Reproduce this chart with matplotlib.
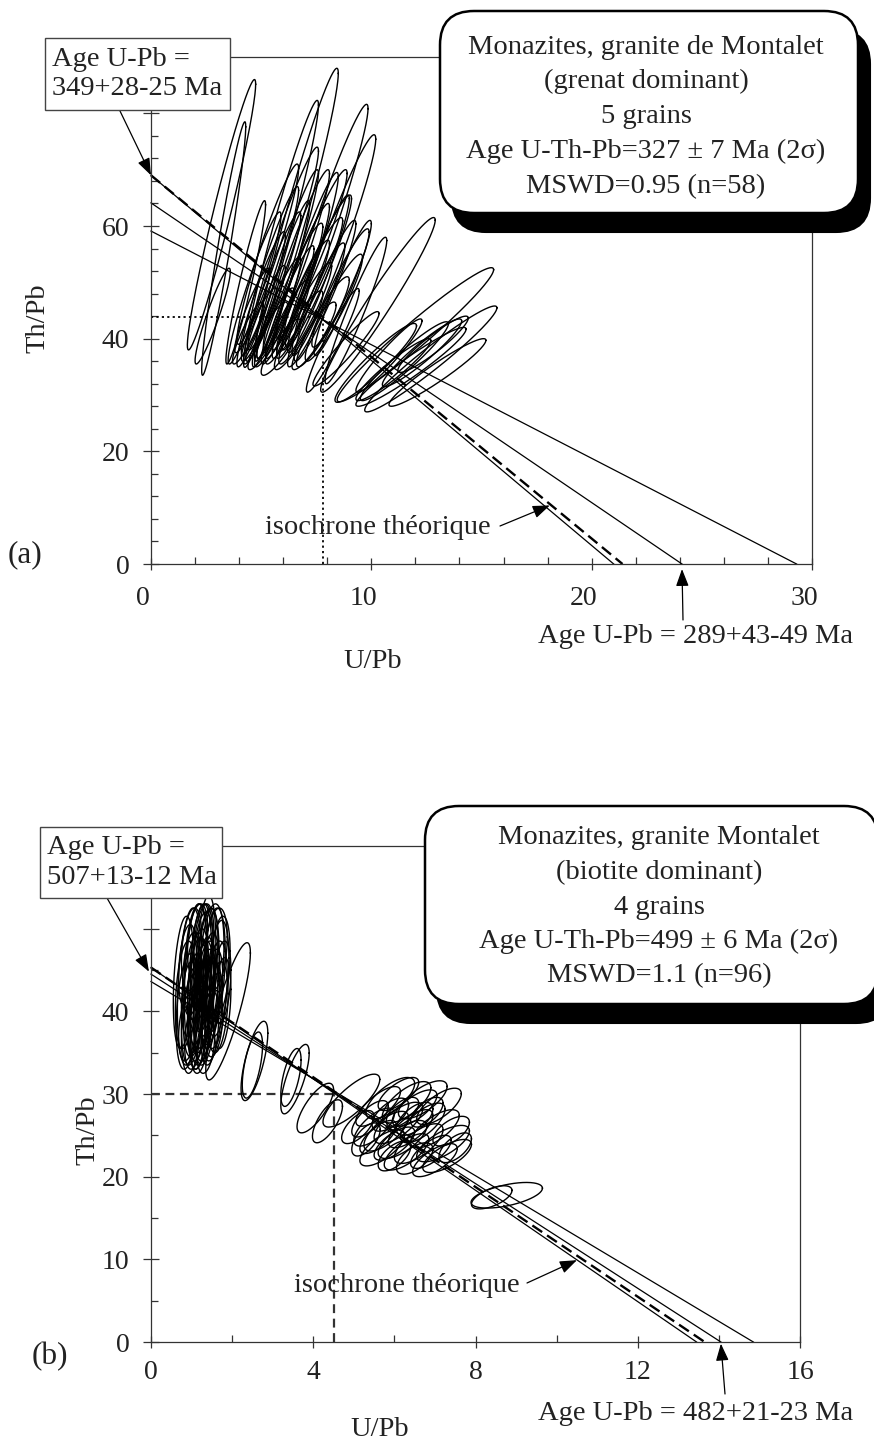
import numpy as np
import matplotlib
matplotlib.use("Agg")
import matplotlib.pyplot as plt
from matplotlib.patches import FancyBboxPatch, Rectangle
from matplotlib.transforms import ScaledTranslation

plt.rcParams['font.family'] = ['Liberation Serif', 'DejaVu Serif']

# ---------------- DATA ----------------
# Panel (a): error ellipses (centre x, centre y, half-extent x, half-extent y, correlation)
a_cx = [3.2, 3.3, 4.3, 2.8, 6.6, 5.9, 7.9, 8.3, 6.1, 7.0, 7.6, 8.7,
        5.0, 5.5, 6.0, 6.4, 6.8, 7.2, 5.2, 5.8, 6.3, 6.9, 4.6, 4.9, 5.6, 6.2, 7.5, 7.9,
        6.6, 7.3, 5.4, 4.7, 7.0, 4.4, 5.3, 6.7, 7.8, 8.3, 6.0, 7.6, 8.6, 5.9,
        10.3, 12.0, 12.7, 11.5, 12.3, 11.0, 12.8, 10.8, 13.0, 11.8, 8.85, 8.25, 10.2, 9.3,
        5.3, 7.4]
a_cy = [62.0, 56.0, 50.0, 44.0, 62.0, 58.6, 59.8, 56.6, 52.5, 53.0, 51.5, 49.0,
        47.0, 49.0, 50.5, 48.0, 51.0, 49.5, 44.5, 45.5, 46.5, 47.0, 45.0, 42.5, 42.0, 43.0, 46.0, 48.5,
        54.0, 55.0, 52.0, 49.0, 44.5, 41.0, 40.5, 41.5, 43.0, 45.5, 56.0, 52.0, 49.0, 38.5,
        46.0, 40.7, 36.4, 36.0, 37.5, 34.5, 39.0, 37.0, 34.0, 35.0, 38.2, 39.7, 35.7, 45.0,
        55.0, 40.5]
a_sx = [1.55, 1.0, 0.9, 0.8, 1.9, 1.7, 1.95, 1.9, 1.5, 1.5, 1.4, 1.3,
        1.1, 1.3, 1.2, 1.4, 1.3, 1.5, 0.9, 1.0, 1.1, 1.2, 0.8, 0.8, 0.9, 1.0, 1.3, 1.4,
        1.5, 1.6, 1.3, 1.2, 1.2, 0.7, 0.9, 1.1, 1.2, 1.3, 1.6, 1.5, 1.3, 0.9,
        2.6, 3.55, 3.0, 2.0, 1.8, 1.7, 1.6, 1.5, 2.2, 2.5, 1.5, 1.2, 1.85, 1.4,
        1.4, 1.0]
a_sy = [24.0, 22.5, 14.5, 8.5, 26.0, 23.7, 21.8, 19.6, 17.5, 16.5, 14.0, 12.0,
        12.0, 13.5, 14.0, 12.5, 13.0, 12.0, 8.5, 9.0, 10.0, 10.5, 7.5, 6.5, 7.0, 7.5, 11.0, 12.5,
        16.0, 15.0, 15.0, 13.5, 9.0, 5.5, 6.0, 7.0, 8.0, 9.5, 18.0, 13.5, 10.5, 5.0,
        15.5, 11.9, 9.4, 7.0, 6.0, 5.5, 5.0, 6.5, 6.0, 7.0, 6.6, 9.2, 7.0, 13.0,
        16.0, 6.0]
a_rho = [0.965, 0.96, 0.95, 0.93, 0.965, 0.965, 0.965, 0.96, 0.96, 0.955, 0.955, 0.95,
         0.94, 0.95, 0.95, 0.945, 0.95, 0.95, 0.93, 0.93, 0.94, 0.94, 0.92, 0.91, 0.91, 0.92, 0.94, 0.95,
         0.955, 0.955, 0.955, 0.95, 0.93, 0.9, 0.9, 0.91, 0.92, 0.93, 0.96, 0.95, 0.94, 0.88,
         0.97, 0.97, 0.965, 0.95, 0.94, 0.94, 0.93, 0.95, 0.95, 0.955, 0.95, 0.95, 0.94, 0.955,
         0.95, 0.9]

# Panel (a): regression lines (Th/Pb intercept, U/Pb intercept)
a_line_y0 = [69.0, 64.1, 59.1]
a_line_x0 = [21.0, 24.1, 29.3]
a_theo = (69.0, 21.4)          # theoretical isochron intercepts
a_centroid = (7.8, 43.9)

# Panel (b): error ellipses
b_cx = [0.95, 1.10, 1.25, 1.40, 1.55, 1.65, 1.05, 1.20, 1.35, 0.90, 1.00, 1.15, 1.30, 1.45, 1.60,
        1.70, 0.85, 1.10, 1.25, 1.40, 1.00, 1.20, 1.35, 1.50, 1.65, 0.95, 1.15, 1.30, 1.45, 1.05,
        1.20, 1.35, 1.10, 1.25, 1.40, 1.55, 0.90, 1.75, 1.30, 1.00,
        0.80, 1.50, 1.60, 1.15, 1.35, 1.05, 1.25, 1.45, 0.90, 1.55, 1.20, 1.75,
        1.90, 2.55, 2.50, 3.55, 3.45, 4.05, 4.35, 4.94,
        5.6, 5.9, 6.3, 6.7, 7.1, 5.5, 5.8, 6.1, 6.4, 6.7, 7.0, 5.7, 6.0, 6.3, 6.6, 7.2, 7.3, 7.0,
        5.3, 5.9, 6.2, 6.5, 6.8, 6.0, 6.5, 7.5,
        5.4, 6.2, 6.9, 5.6, 6.5, 7.4, 6.1, 5.1,
        8.77, 8.4]
b_cy = [43.0, 44.0, 43.5, 44.5, 45.0, 44.0, 41.5, 40.5, 41.0, 40.0, 38.5, 42.5, 42.0, 42.5, 42.0,
        45.5, 42.0, 46.0, 46.5, 47.0, 44.5, 45.0, 44.0, 40.0, 40.5, 41.5, 39.0, 38.5, 38.0, 37.0,
        36.5, 36.0, 43.0, 41.5, 43.5, 43.0, 45.5, 43.5, 48.0, 47.5,
        43.5, 46.0, 47.5, 48.5, 45.5, 40.0, 39.5, 41.0, 38.0, 38.5, 43.0, 41.0,
        40.0, 34.0, 33.5, 31.8, 32.0, 28.3, 26.7, 29.2,
        28.5, 29.5, 29.0, 29.3, 28.5, 26.0, 25.5, 26.5, 25.8, 26.5, 25.8, 23.5, 24.0, 23.0, 24.0, 24.0, 22.5, 22.0,
        24.5, 27.5, 27.8, 27.0, 27.8, 22.5, 22.2, 23.5,
        27.0, 24.5, 23.0, 24.8, 28.3, 25.5, 30.0, 26.0,
        17.75, 17.5]
b_sx = [0.30, 0.28, 0.30, 0.28, 0.28, 0.27, 0.30, 0.28, 0.30, 0.28, 0.25, 0.25, 0.25, 0.25, 0.28,
        0.25, 0.25, 0.28, 0.28, 0.25, 0.22, 0.22, 0.22, 0.25, 0.25, 0.20, 0.22, 0.22, 0.22, 0.22,
        0.22, 0.22, 0.20, 0.20, 0.20, 0.22, 0.22, 0.22, 0.25, 0.25,
        0.25, 0.30, 0.28, 0.25, 0.25, 0.25, 0.28, 0.25, 0.22, 0.22, 0.30, 0.22,
        0.55, 0.33, 0.25, 0.35, 0.25, 0.45, 0.37, 0.70,
        0.55, 0.6, 0.6, 0.6, 0.55, 0.5, 0.55, 0.6, 0.55, 0.55, 0.6, 0.55, 0.5, 0.55, 0.6, 0.65, 0.6, 0.55,
        0.35, 0.45, 0.4, 0.45, 0.4, 0.4, 0.45, 0.4,
        0.45, 0.6, 0.5, 0.45, 0.55, 0.45, 0.5, 0.4,
        0.88, 0.5]
b_sy = [9.5, 9.0, 8.5, 8.0, 7.5, 7.0, 8.0, 7.5, 7.5, 7.0, 6.0, 6.5, 6.5, 7.0, 6.5,
        6.0, 6.5, 7.0, 6.5, 5.5, 5.0, 5.0, 5.0, 6.0, 5.5, 4.5, 5.0, 4.5, 4.5, 4.0,
        4.0, 3.5, 4.0, 4.0, 4.0, 4.5, 5.0, 5.0, 5.0, 5.0,
        8.0, 7.0, 5.0, 4.5, 8.5, 5.5, 6.0, 5.0, 4.0, 4.0, 10.0, 5.5,
        8.3, 4.8, 4.0, 4.2, 3.5, 3.0, 2.6, 3.2,
        2.4, 2.5, 2.5, 2.3, 2.2, 2.3, 2.4, 2.5, 2.3, 2.4, 2.3, 2.2, 2.0, 2.2, 2.4, 2.2, 2.0, 2.0,
        2.0, 2.0, 1.8, 2.0, 1.8, 1.8, 1.9, 1.8,
        2.2, 2.3, 2.0, 2.0, 2.2, 1.8, 2.0, 2.0,
        1.55, 1.4]
b_rho = [0.3, 0.3, 0.35, 0.3, 0.3, 0.35, 0.4, 0.35, 0.35, 0.3, 0.3, 0.3, 0.3, 0.3, 0.35,
         0.3, 0.3, 0.3, 0.3, 0.3, 0.25, 0.25, 0.25, 0.3, 0.3, 0.25, 0.3, 0.3, 0.3, 0.3,
         0.3, 0.3, 0.25, 0.25, 0.25, 0.3, 0.3, 0.3, 0.3, 0.3,
         0.3, 0.3, 0.3, 0.3, 0.3, 0.3, 0.35, 0.3, 0.3, 0.3, 0.35, 0.3,
         0.85, 0.7, 0.6, 0.75, 0.6, 0.75, 0.7, 0.8,
         0.75, 0.7, 0.7, 0.7, 0.7, 0.7, 0.7, 0.7, 0.7, 0.7, 0.7, 0.7, 0.7, 0.7, 0.7, 0.7, 0.7, 0.7,
         0.6, 0.6, 0.6, 0.6, 0.6, 0.6, 0.6, 0.6,
         0.7, 0.7, 0.7, 0.7, 0.7, 0.6, 0.7, 0.65,
         0.55, 0.6]

b_line_y0 = [45.3, 44.5, 43.6]
b_line_x0 = [13.45, 14.05, 14.85]
b_theo = (45.3, 13.65)
b_centroid = (4.5, 30.0)

for arrs in ((a_cx, a_cy, a_sx, a_sy, a_rho), (b_cx, b_cy, b_sx, b_sy, b_rho)):
    assert len({len(v) for v in arrs}) == 1, [len(v) for v in arrs]

# Texts
a_box_lines = ["Monazites, granite de Montalet", "(grenat dominant)", "5 grains",
               "Age U-Th-Pb=327 \u00b1 7 Ma (2\u03c3)", "MSWD=0.95 (n=58)"]
b_box_lines = ["Monazites, granite Montalet", "(biotite dominant)", "4 grains",
               "Age U-Th-Pb=499 \u00b1 6 Ma (2\u03c3)", "MSWD=1.1 (n=96)"]
a_upper_age = "Age U-Pb =\n349+28-25 Ma"
b_upper_age = "Age U-Pb =\n507+13-12 Ma"
a_lower_age = "Age U-Pb = 289+43-49 Ma"
b_lower_age = "Age U-Pb = 482+21-23 Ma"

# ---------------- FIGURE ----------------
W, H = 874, 1449
fig = plt.figure(figsize=(W / 100, H / 100), dpi=100)
TXT = '#222222'
FS = 20.5


def fy(py):
    return H - py


def axes_px(x0, x1, y_top, y_bot):
    return fig.add_axes([x0 / W, fy(y_bot) / H, (x1 - x0) / W, (y_bot - y_top) / H])


def draw_ellipses(ax, cx, cy, sx, sy, rho):
    t = np.linspace(0, 2 * np.pi, 240)
    for x, y, a, b, r in zip(cx, cy, sx, sy, rho):
        ex = x + a * np.cos(t)
        ey = y + b * (r * np.cos(t) + np.sqrt(1 - r * r) * np.sin(t))
        ax.plot(ex, ey, color='black', lw=1.0, zorder=3)


def style_axes(ax, xmax, ymax, xmaj, xmin_, ymaj, ymin_, ylabels, xshift_px, xpad):
    ax.set_xlim(0, xmax)
    ax.set_ylim(0, ymax)
    for s in ax.spines.values():
        s.set_linewidth(0.9)
        s.set_color('#333333')
    ax.set_xticks(np.arange(0, xmax + 0.01, xmaj))
    ax.set_xticks(np.arange(0, xmax + 0.01, xmin_), minor=True)
    ax.set_yticks(np.arange(0, ymax + 0.01, ymaj))
    ax.set_yticks(np.arange(0, ymax + 0.01, ymin_), minor=True)
    ax.set_yticklabels([str(v) if v in ylabels else '' for v in np.arange(0, ymax + 0.01, ymaj).astype(int)])
    ax.tick_params(axis='x', which='major', direction='inout', length=8, width=0.9, pad=xpad,
                   labelsize=FS - 0.5, colors='#333333', labelcolor=TXT)
    ax.tick_params(axis='x', which='minor', direction='in', length=5, width=0.9, colors='#333333')
    ax.tick_params(axis='y', which='major', direction='inout', length=11, width=0.9, pad=10,
                   labelsize=FS - 0.5, colors='#333333', labelcolor=TXT)
    ax.tick_params(axis='y', which='minor', direction='in', length=5, width=0.9, colors='#333333')
    if xshift_px:
        off = ScaledTranslation(xshift_px / 100, 0, fig.dpi_scale_trans)
        for lab in ax.get_xticklabels():
            lab.set_transform(lab.get_transform() + off)


def draw_lines(ax, y0s, x0s, theo, dash):
    for y0, x0 in zip(y0s, x0s):
        ax.plot([0, x0], [y0, 0], color='black', lw=0.9, zorder=2, clip_on=False)
    ax.plot([0, theo[1]], [theo[0], 0], color='black', lw=1.7, dashes=dash, zorder=2, clip_on=False)


def info_box(x0, y_top, x1, y_bot, lines, cx_text, y_first, spacing):
    w = (x1 - x0) / 100
    h = (y_bot - y_top) / 100
    r = 0.34
    sh = FancyBboxPatch((x0 / 100 + 0.12, fy(y_bot) / 100 - 0.19), w, h,
                        boxstyle=f"round,pad=0,rounding_size={r}",
                        transform=fig.dpi_scale_trans, facecolor='black', edgecolor='black',
                        lw=1.5, zorder=5)
    fig.patches.append(sh)
    bx = FancyBboxPatch((x0 / 100, fy(y_bot) / 100), w, h,
                        boxstyle=f"round,pad=0,rounding_size={r}",
                        transform=fig.dpi_scale_trans, facecolor='white', edgecolor='black',
                        lw=1.8, zorder=6)
    fig.patches.append(bx)
    for i, s in enumerate(lines):
        fig.text(cx_text / W, fy(y_first + i * spacing) / H, s, ha='center', va='center',
                 fontsize=FS, color=TXT, zorder=7)


def age_box(x0, y_top, x1, y_bot, text):
    rect = Rectangle((x0 / 100, fy(y_bot) / 100), (x1 - x0) / 100, (y_bot - y_top) / 100,
                     transform=fig.dpi_scale_trans, facecolor='white', edgecolor='#444444',
                     lw=1.0, zorder=5)
    fig.patches.append(rect)
    fig.text((x0 + 7) / W, fy((y_top + y_bot) / 2) / H, text, ha='left', va='center',
             fontsize=FS, color=TXT, linespacing=1.22, zorder=7)


ARROW = dict(arrowstyle='-|>,head_length=0.8,head_width=0.3', color='black', lw=0.9,
             shrinkA=0, shrinkB=0, mutation_scale=13)

# ---------------- PANEL (a) ----------------
axa = axes_px(151, 812, 57, 564)
style_axes(axa, 30, 90, 10, 2, 20, 4, [0, 20, 40, 60], -8, 12)
draw_ellipses(axa, a_cx, a_cy, a_sx, a_sy, a_rho)
draw_lines(axa, a_line_y0, a_line_x0, a_theo, (5, 2.5))
axa.plot([0, a_centroid[0]], [a_centroid[1], a_centroid[1]], color='black', lw=1.3,
         dashes=(1.2, 1.8), zorder=2)
axa.plot([a_centroid[0], a_centroid[0]], [0, a_centroid[1]], color='black', lw=1.3,
         dashes=(1.2, 1.8), zorder=2)

axa.annotate('', xy=(0, a_theo[0]), xycoords='data', xytext=(120, fy(111)),
             textcoords='figure pixels', arrowprops=ARROW, annotation_clip=False)
axa.annotate('', xy=(18.1, 10.4), xycoords='data', xytext=(500, fy(526)),
             textcoords='figure pixels', arrowprops=ARROW, annotation_clip=False)
axa.annotate('', xy=(a_line_x0[1], -0.9), xycoords='data', xytext=(683, fy(620)),
             textcoords='figure pixels', arrowprops=ARROW, annotation_clip=False)
fig.text(378 / W, fy(527) / H, "isochrone th\u00e9orique", ha='center', va='center',
         fontsize=FS, color=TXT)
fig.text(695 / W, fy(637) / H, a_lower_age, ha='center', va='center', fontsize=FS, color=TXT)
fig.text(25 / W, fy(555) / H, "(a)", ha='center', va='center', fontsize=FS + 2, color=TXT)
fig.text(38 / W, fy(318) / H, "Th/Pb", ha='center', va='center', rotation=90,
         fontsize=FS, color=TXT)
fig.text(373 / W, fy(662) / H, "U/Pb", ha='center', va='center', fontsize=FS, color=TXT)

age_box(45, 38, 230, 110, a_upper_age)
info_box(440, 11, 858, 213, a_box_lines, 646, 47, 34.8)

# ---------------- PANEL (b) ----------------
axb = axes_px(151, 800, 846, 1342)
style_axes(axb, 16, 60, 4, 2, 10, 5, [0, 10, 20, 30, 40], 0, 9)
draw_ellipses(axb, b_cx, b_cy, b_sx, b_sy, b_rho)
draw_lines(axb, b_line_y0, b_line_x0, b_theo, (5, 2.5))
axb.plot([0, b_centroid[0]], [b_centroid[1], b_centroid[1]], color='#333333', lw=1.6,
         dashes=(4, 2.5), zorder=2)
axb.plot([b_centroid[0], b_centroid[0]], [0, b_centroid[1]], color='#333333', lw=1.6,
         dashes=(4, 2.5), zorder=2)

axb.annotate('', xy=(-0.05, 44.8), xycoords='data', xytext=(107, fy(898)),
             textcoords='figure pixels', arrowprops=ARROW, annotation_clip=False)
axb.annotate('', xy=(10.5, 9.9), xycoords='data', xytext=(527, fy(1283)),
             textcoords='figure pixels', arrowprops=ARROW, annotation_clip=False)
axb.annotate('', xy=(b_line_x0[1], -0.2), xycoords='data', xytext=(725, fy(1394)),
             textcoords='figure pixels', arrowprops=ARROW, annotation_clip=False)
fig.text(407 / W, fy(1285) / H, "isochrone th\u00e9orique", ha='center', va='center',
         fontsize=FS, color=TXT)
fig.text(696 / W, fy(1414) / H, b_lower_age, ha='center', va='center', fontsize=FS, color=TXT)
fig.text(50 / W, fy(1357) / H, "(b)", ha='center', va='center', fontsize=FS + 2, color=TXT)
fig.text(88 / W, fy(1130) / H, "Th/Pb", ha='center', va='center', rotation=90,
         fontsize=FS, color=TXT)
fig.text(380 / W, fy(1430) / H, "U/Pb", ha='center', va='center', fontsize=FS, color=TXT)

age_box(40, 827, 222, 898, b_upper_age)
info_box(425, 806, 878, 1004, b_box_lines, 659, 838, 34.5)

fig.savefig('out.png', dpi=100)
